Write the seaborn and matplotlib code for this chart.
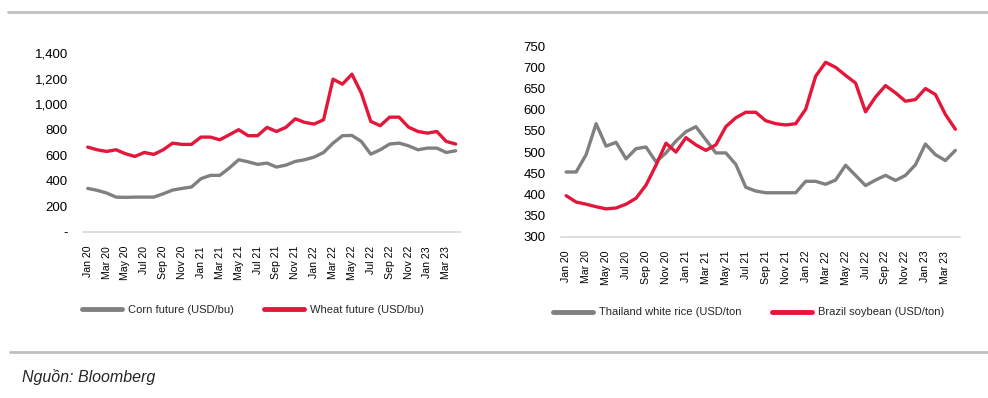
import pandas as pd
import seaborn as sns
import matplotlib.pyplot as plt
from matplotlib.lines import Line2D

sns.set_style('white')
plt.rcParams['font.family'] = ['Liberation Sans', 'DejaVu Sans']

# monthly values, Jan 2020 - Apr 2023
corn = [341, 326, 305, 273, 271, 273, 273, 273, 299, 328, 341, 352, 417, 443, 443, 500,
        565, 549, 529, 539, 508, 523, 552, 565, 586, 622, 695, 753, 755, 708, 609, 643,
        688, 695, 674, 643, 656, 656, 622, 635]
wheat = [664, 643, 630, 643, 612, 591, 622, 607, 643, 695, 685, 685, 742, 742, 721, 760,
         800, 753, 753, 818, 786, 818, 885, 857, 844, 878, 1195, 1156, 1234, 1086, 865, 831,
         898, 898, 820, 786, 773, 786, 708, 688]
rice = [453, 453, 494, 567, 514, 523, 484, 508, 512, 477, 498, 526, 548, 560, 529, 498,
        498, 471, 417, 408, 404, 404, 404, 404, 431, 431, 424, 434, 469, 445, 421, 434,
        445, 433, 445, 470, 519, 494, 480, 504]
soybean = [397, 382, 377, 371, 366, 368, 377, 391, 422, 469, 521, 500, 534, 517, 504, 517,
           560, 581, 594, 594, 574, 567, 564, 567, 601, 679, 712, 700, 681, 663, 595, 630,
           657, 640, 620, 624, 650, 636, 589, 554]
tick_labels = ['Jan 20', 'Mar 20', 'May 20', 'Jul 20', 'Sep 20', 'Nov 20',
               'Jan 21', 'Mar 21', 'May 21', 'Jul 21', 'Sep 21', 'Nov 21',
               'Jan 22', 'Mar 22', 'May 22', 'Jul 22', 'Sep 22', 'Nov 22',
               'Jan 23', 'Mar 23']

GRAY = '#808080'
RED = '#E2173A'

fig = plt.figure(figsize=(9.88, 3.98), dpi=100)
ax1 = fig.add_axes([0.084, 0.417, 0.382, 0.450])
ax2 = fig.add_axes([0.568, 0.405, 0.404, 0.479])


def draw(ax, s1, s2, names, ylim, step, fmt):
    n = len(s1)
    df = pd.DataFrame({'idx': list(range(n)) * 2,
                       'value': s1 + s2,
                       'series': [names[0]] * n + [names[1]] * n})
    sns.lineplot(data=df, x='idx', y='value', hue='series',
                 palette=[GRAY, RED], linewidth=2.4, ax=ax, legend=False)
    ax.set_xlim(-0.5, n - 0.5)
    ax.set_ylim(*ylim)
    ax.set_xticks(range(0, n, 2))
    ax.set_xticklabels(tick_labels, rotation=90, fontsize=7.6)
    yt = list(range(ylim[0], ylim[1] + 1, step))
    ax.set_yticks(yt)
    ax.set_yticklabels([fmt(v) for v in yt], fontsize=9.5)
    ax.set_xlabel('')
    ax.set_ylabel('')
    for s in ['top', 'right', 'left']:
        ax.spines[s].set_visible(False)
    ax.spines['bottom'].set_color('#d9d9d9')
    ax.spines['bottom'].set_linewidth(1.2)
    ax.tick_params(axis='both', length=0, colors='#000000')
    ax.tick_params(axis='x', pad=10)
    ax.tick_params(axis='y', pad=11)
    ax.grid(False)


draw(ax1, corn, wheat, ['Corn future (USD/bu)', 'Wheat future (USD/bu)'],
     (0, 1400), 200, lambda v: '-' if v == 0 else f'{v:,}')
draw(ax2, rice, soybean, ['Thailand white rice (USD/ton', 'Brazil soybean (USD/ton)'],
     (300, 750), 50, lambda v: f'{v}')


def legend(names, anchor):
    handles = [Line2D([0], [0], color=GRAY, lw=3.5), Line2D([0], [0], color=RED, lw=3.5)]
    fig.legend(handles, names, loc='center left', bbox_to_anchor=anchor, ncol=2,
               frameon=False, borderpad=0, borderaxespad=0, handlelength=3.6,
               handletextpad=0.55, columnspacing=2.7, prop={'size': 8})


legend(['Corn future (USD/bu)', 'Wheat future (USD/bu)'], (0.083, 0.222))
legend(['Thailand white rice (USD/ton', 'Brazil soybean (USD/ton)'], (0.560, 0.215))

# frame lines of the report block
fig.add_artist(Line2D([0.008, 1.0], [1 - 12 / 398, 1 - 12 / 398], color='#c0c0c0', lw=2,
                      transform=fig.transFigure))
fig.add_artist(Line2D([0.010, 1.0], [1 - 352 / 398, 1 - 352 / 398], color='#c0c0c0', lw=2,
                      transform=fig.transFigure))

fig.text(22 / 988, 1 - 377 / 398, 'Nguồn: Bloomberg', va='center', ha='left',
         fontsize=11.5, style='italic')

fig.savefig('out.png', dpi=100)
